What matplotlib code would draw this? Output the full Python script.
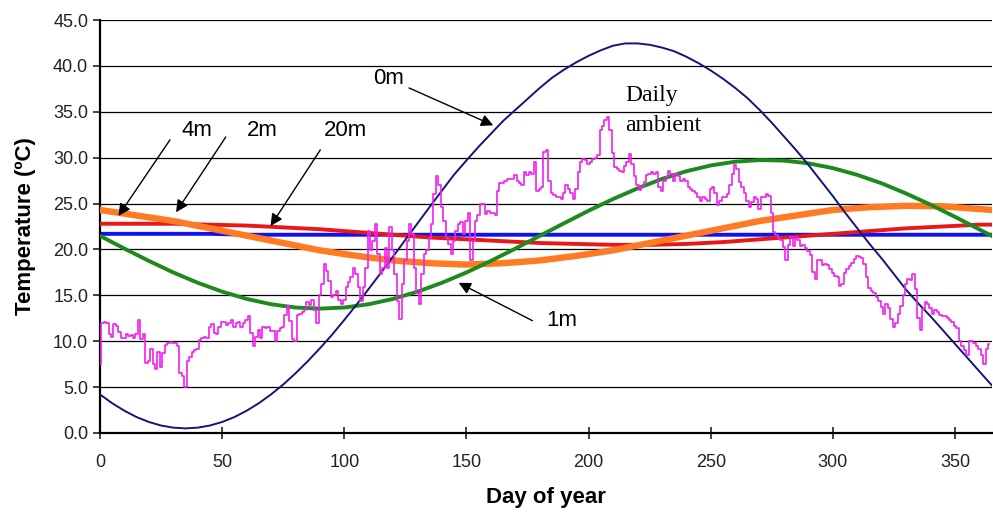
import matplotlib
matplotlib.use('Agg')
import matplotlib.pyplot as plt
import numpy as np

#Data
days_5 = list(range(0, 366, 5))
temp_0m = [4.2, 3.24, 2.42, 1.73, 1.2, 0.81, 0.58, 0.5, 0.58, 0.81,
           1.2, 1.73, 2.42, 3.24, 4.2, 5.28, 6.49, 7.81, 9.22, 10.71,
           12.32, 13.98, 15.7, 17.46, 19.24, 21.05, 22.85, 24.65, 26.42, 28.17,
           29.7, 31.2, 32.6, 34.0, 35.2, 36.4, 37.6, 38.7, 39.6, 40.4,
           41.1, 41.7, 42.2, 42.45, 42.45, 42.3, 42.0, 41.6, 41.0, 40.3,
           39.5, 38.6, 37.6, 36.5, 35.2, 33.8, 32.3, 30.8, 29.2, 27.5,
           25.8, 24.0, 22.3, 20.6, 19.0, 17.3, 15.6, 14.1, 12.7, 11.2,
           9.7, 8.2, 6.7, 5.2]

days_10 = list(range(0, 361, 10)) + [365]
temp_1m = [21.48, 20.09, 18.75, 17.49, 16.37, 15.4, 14.61, 14.03, 13.67, 13.55,
           13.67, 14.03, 14.61, 15.4, 16.37, 17.49, 18.75, 20.09, 21.48, 22.86,
           24.22, 25.49, 26.65, 27.68, 28.52, 29.15, 29.56, 29.74, 29.68, 29.38,
           28.86, 28.12, 27.2, 26.09, 24.87, 23.55, 22.17, 21.48]

days_15 = [0, 15, 30, 45, 60, 75, 90, 105, 120, 135, 150, 165, 180, 195,
           210, 225, 240, 255, 270, 285, 300, 315, 330, 345, 360, 365]
temp_2m = [22.8, 22.8, 22.8, 22.7, 22.6, 22.4, 22.2, 21.9, 21.6, 21.3, 21.1, 20.9, 20.7,
           20.6, 20.5, 20.5, 20.6, 20.8, 21.1, 21.4, 21.7, 22.0, 22.3, 22.5, 22.7, 22.7]
temp_4m = [24.3, 23.7, 23.1, 22.3, 21.5, 20.7, 19.9, 19.3, 18.8, 18.5, 18.35, 18.5, 18.8,
           19.3, 19.9, 20.7, 21.5, 22.3, 23.1, 23.7, 24.3, 24.6, 24.75, 24.7, 24.4, 24.3]
temp_20m = [21.7, 21.7, 21.7, 21.7, 21.6, 21.6, 21.6, 21.6, 21.6, 21.6, 21.6, 21.6, 21.6,
            21.6, 21.6, 21.6, 21.6, 21.6, 21.6, 21.6, 21.6, 21.6, 21.6, 21.6, 21.6, 21.6]

#daily ambient, one value per day (day 0 to 364)
ambient = [
    7.5, 12.0, 12.1, 12.0, 10.8, 10.5, 11.9, 11.7, 11.0, 10.4,
    10.3, 10.8, 10.6, 10.7, 10.3, 10.8, 12.3, 10.2, 10.8, 7.6,
    7.8, 9.2, 7.5, 7.0, 8.8, 7.2, 8.7, 9.6, 9.8, 9.9,
    9.8, 9.8, 9.5, 6.5, 6.2, 5.0, 7.8, 8.3, 8.8, 9.0,
    9.2, 10.1, 10.4, 10.5, 10.3, 11.6, 11.9, 10.9, 10.8, 11.6,
    12.1, 12.1, 11.8, 12.0, 12.3, 11.6, 12.0, 12.1, 11.6, 12.0,
    12.3, 12.7, 10.9, 9.5, 10.5, 11.2, 10.4, 11.5, 11.4, 11.6,
    11.1, 11.1, 10.0, 11.1, 11.4, 11.6, 12.9, 13.8, 12.2, 10.2,
    10.0, 12.9, 13.0, 13.2, 13.4, 14.3, 13.9, 14.5, 13.4, 12.0,
    15.0, 16.2, 18.4, 17.7, 16.6, 14.8, 15.0, 15.5, 14.5, 14.0,
    14.5, 15.9, 16.5, 17.0, 18.0, 17.3, 15.9, 14.4, 15.9, 18.0,
    22.0, 19.9, 20.9, 22.8, 19.5, 17.3, 18.0, 20.2, 18.0, 22.4,
    19.9, 17.3, 14.4, 12.4, 16.2, 18.8, 20.9, 22.8, 21.7, 18.0,
    15.2, 14.1, 17.3, 19.5, 19.9, 21.3, 22.8, 26.0, 28.0, 27.0,
    24.6, 23.1, 21.3, 20.6, 19.5, 20.9, 22.0, 22.8, 23.0, 21.7,
    23.1, 24.0, 18.8, 20.9, 23.1, 23.8, 24.9, 25.0, 23.9, 24.2,
    24.0, 24.0, 23.7, 26.4, 27.2, 27.2, 27.5, 27.7, 27.7, 27.7,
    28.1, 27.5, 27.2, 27.0, 28.4, 28.1, 28.4, 28.2, 29.5, 26.4,
    26.6, 26.8, 30.6, 30.8, 27.5, 26.2, 25.9, 25.7, 25.7, 25.5,
    26.2, 27.0, 26.6, 26.2, 25.5, 26.6, 28.4, 29.5, 29.9, 29.7,
    29.3, 29.5, 29.9, 30.0, 30.3, 33.0, 33.5, 34.1, 34.4, 33.0,
    30.5, 29.0, 28.8, 28.6, 28.4, 29.1, 29.5, 30.4, 29.3, 28.0,
    27.0, 26.5, 26.8, 27.3, 28.1, 28.2, 28.4, 28.2, 28.4, 26.8,
    26.4, 27.5, 27.9, 28.6, 28.2, 27.5, 28.2, 28.0, 27.5, 27.7,
    27.5, 26.8, 26.6, 26.4, 26.2, 25.7, 25.3, 25.7, 25.5, 25.3,
    26.6, 26.8, 26.2, 24.8, 25.3, 25.7, 25.7, 26.0, 27.0, 28.2,
    29.2, 28.8, 27.3, 26.8, 26.1, 25.3, 24.6, 25.2, 25.7, 25.5,
    24.4, 25.7, 25.7, 26.0, 25.8, 24.0, 21.9, 21.6, 21.3, 21.0,
    20.3, 18.8, 20.5, 21.4, 20.4, 21.4, 21.0, 20.4, 20.5, 20.2,
    19.8, 19.4, 17.5, 16.8, 18.9, 18.9, 18.3, 18.4, 18.3, 17.9,
    17.4, 17.1, 17.0, 16.0, 16.2, 17.4, 17.9, 18.2, 18.5, 19.0,
    19.3, 19.2, 19.1, 18.4, 17.0, 15.8, 15.5, 15.2, 14.8, 14.4,
    13.7, 13.0, 14.1, 13.6, 12.4, 11.6, 12.0, 13.0, 13.8, 15.0,
    16.2, 16.8, 16.7, 17.3, 15.7, 12.5, 11.2, 13.5, 14.3, 14.1,
    13.6, 13.0, 13.4, 13.2, 12.9, 12.7, 12.7, 12.5, 12.3, 12.1,
    11.7, 11.4, 10.0, 9.5, 9.0, 8.5, 10.0, 10.0, 9.8, 9.5,
    9.2, 8.5, 7.5, 9.2, 9.7]
ambient_days = np.arange(len(ambient))

plt.rcParams['font.family'] = ['Liberation Sans', 'DejaVu Sans']

fig = plt.figure(figsize=(9.93, 5.13), dpi=100)
ax = fig.add_axes([0.1007, 0.156, 0.898, 0.805])

ax.plot(days_15, temp_20m, color='#1010f0', lw=2.8, zorder=2)
ax.plot(days_15, temp_2m, color='#e81818', lw=2.8, zorder=3)
ax.plot(days_15, temp_4m, color='#ff7a22', lw=4.6, zorder=3)
ax.plot(days_10, temp_1m, color='#1c8a1c', lw=2.8, zorder=4)
ax.plot(days_5, temp_0m, color='#14147a', lw=1.4, zorder=5)
ax.plot(ambient_days, ambient, color='#f020f0', lw=1.2, drawstyle='steps-mid', zorder=6)

ax.set_xlim(0, 365)
ax.set_ylim(0, 45)
ax.set_xticks(np.arange(0, 351, 50))
ax.set_yticks(np.arange(0, 46, 5))
ax.set_yticklabels(['%.1f' % v for v in np.arange(0, 46, 5)])
ax.yaxis.grid(True, color='black', lw=0.9)
ax.set_axisbelow(True)
for s in ['top', 'right']:
    ax.spines[s].set_visible(False)
ax.spines['left'].set_linewidth(1.6)
ax.spines['bottom'].set_linewidth(1.6)
ax.tick_params(axis='x', direction='inout', length=8, width=1.2, labelsize=13, pad=11, colors='#222222')
ax.tick_params(axis='y', direction='out', length=5, width=1.2, labelsize=13, colors='#222222')
ax.set_xlabel('Day of year', fontsize=16, fontweight='bold', labelpad=12)
ax.set_ylabel('Temperature (ºC)', fontsize=16, fontweight='bold', labelpad=12)

#annotations
arrow = dict(arrowstyle='-|>', color='black', lw=1.0, mutation_scale=18)
ax.annotate('0m', xy=(162, 33.4), xytext=(118, 38.6), fontsize=16,
            ha='center', va='center', arrowprops=arrow, zorder=7)
ax.annotate('', xy=(6.9, 23.4), xytext=(29.3, 32.2), arrowprops=arrow, zorder=7)
ax.annotate('', xy=(30.5, 23.8), xytext=(52.1, 32.5), arrowprops=arrow, zorder=7)
ax.annotate('', xy=(69.2, 22.3), xytext=(90.8, 31.1), arrowprops=arrow, zorder=7)
ax.text(39.5, 33.0, '4m', fontsize=16, ha='center', va='center')
ax.text(66.5, 33.0, '2m', fontsize=16, ha='center', va='center')
ax.text(100.5, 33.0, '20m', fontsize=16, ha='center', va='center')
ax.annotate('', xy=(145.8, 16.5), xytext=(178, 12.1), arrowprops=arrow, zorder=7)
ax.text(189, 12.3, '1m', fontsize=16, ha='center', va='center')
ax.text(215, 36.8, 'Daily', fontsize=17, family='Liberation Serif', ha='left', va='center')
ax.text(215, 33.5, 'ambient', fontsize=17, family='Liberation Serif', ha='left', va='center')

fig.savefig('out.png', dpi=100)
